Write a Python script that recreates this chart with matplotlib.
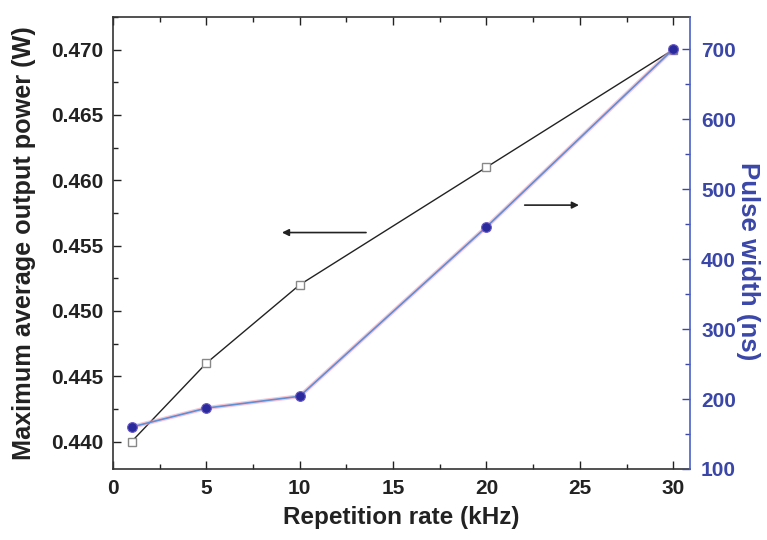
import matplotlib
matplotlib.use("Agg")
import matplotlib.pyplot as plt
from matplotlib.ticker import MultipleLocator

plt.rcParams['font.family'] = ['Liberation Sans', 'DejaVu Sans']
plt.rcParams['font.weight'] = 'bold'

rate_khz = [1, 5, 10, 20, 30]
power_w = [0.440, 0.446, 0.452, 0.461, 0.470]
pulse_ns = [160, 187, 204, 446, 700]

blue = '#3a47a8'
marker_blue = '#2b2a9c'

fig = plt.figure(figsize=(7.67, 5.4), dpi=100)
ax = fig.add_axes([0.1473, 0.1315, 0.7523, 0.837])
ax2 = ax.twinx()

# power (left axis)
ax.plot(rate_khz, power_w, color='#222222', lw=1.0, marker='s', ms=6,
        mfc='white', mec='#888888', mew=1.0, zorder=3)
ax.set_xlim(0, 30.9)
ax.set_ylim(0.4379, 0.4725)
ax.xaxis.set_major_locator(MultipleLocator(5))
ax.xaxis.set_minor_locator(MultipleLocator(2.5))
ax.yaxis.set_major_locator(MultipleLocator(0.005))
ax.yaxis.set_minor_locator(MultipleLocator(0.0025))
ax.yaxis.set_major_formatter(plt.FormatStrFormatter('%.3f'))
ax.tick_params(which='both', direction='in', top=True, right=False,
               labelsize=15, colors='#222222', width=1.0)
ax.tick_params(which='major', length=6, pad=7)
ax.tick_params(which='minor', length=3.5)
ax.set_xlabel('Repetition rate (kHz)', fontsize=17.5, fontweight='bold',
              color='#222222', labelpad=6)
ax.set_ylabel('Maximum average output power (W)', fontsize=18.2,
              fontweight='bold', color='#222222')
ax.yaxis.set_label_coords(-0.133, 0.5)
for s in ['left', 'bottom', 'top']:
    ax.spines[s].set_color('#333333')
    ax.spines[s].set_linewidth(1.2)
ax.spines['right'].set_visible(False)

# pulse width (right axis)
ax2.plot(rate_khz, pulse_ns, color='#f0a0b8', lw=3.0, alpha=0.6, zorder=2)
ax2.plot(rate_khz, pulse_ns, color='#5b8fd6', lw=1.2, marker='o', ms=7,
         mfc=marker_blue, mec='#6a5ac8', mew=0.8, zorder=3)
ax2.set_ylim(100, 746)
ax2.yaxis.set_major_locator(MultipleLocator(100))
ax2.yaxis.set_minor_locator(MultipleLocator(50))
ax2.tick_params(which='both', direction='in', labelsize=15,
                colors=blue, width=1.0)
ax2.tick_params(which='major', length=6, pad=8)
ax2.tick_params(which='minor', length=3.5)
ax2.spines['right'].set_color('#4a5fc8')
ax2.spines['right'].set_linewidth(1.2)
for s in ['left', 'bottom', 'top']:
    ax2.spines[s].set_visible(False)
ax2.set_ylabel('Pulse width (ns)', fontsize=18.6, fontweight='bold',
               color=blue, rotation=270, va='center')
ax2.yaxis.set_label_coords(1.10, 0.46)

# arrows pointing to each curve's axis
ax.annotate('', xy=(8.9, 0.4560), xytext=(13.7, 0.4560),
            arrowprops=dict(arrowstyle='-|>', color='#222222', lw=1.2,
                            mutation_scale=10))
ax.annotate('', xy=(25.1, 0.4581), xytext=(21.9, 0.4581),
            arrowprops=dict(arrowstyle='-|>', color='#222222', lw=1.2,
                            mutation_scale=10))

fig.savefig('out.png', dpi=100)
